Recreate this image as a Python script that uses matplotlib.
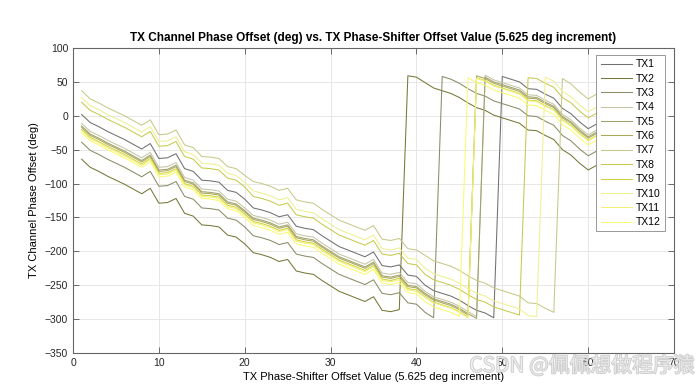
import matplotlib
matplotlib.use('Agg')
import matplotlib.pyplot as plt
import matplotlib.patheffects as pe

plt.rcParams['font.family'] = ['Liberation Sans', 'DejaVu Sans']

# phase-shifter offset steps
steps = list(range(1, 62))

tx1 = [2, -10, -16, -23, -29, -35, -42, -49, -41, -63, -62, -56, -78, -82, -95, -96, -98, -110, -113, -123,
       -136, -139, -143, -149, -146, -163, -166, -168, -177, -185, -193, -198, -203, -208, -201, -221, -223, -220, -235, -237,
       -250, -258, -262, -266, -272, -280, -287, -291, -298, 58, 54, 50, 40, 39, 32, 26, 11, 3, -9, -19, -12]
tx2 = [-64, -76, -82, -89, -95, -101, -108, -115, -107, -129, -128, -122, -144, -148, -161, -162, -164, -176, -179, -189,
       -202, -205, -209, -215, -212, -229, -232, -234, -243, -251, -259, -264, -269, -274, -267, -287, -289, -286, 59, 57,
       49, 41, 37, 33, 27, 19, 12, 8, 1, -3, -7, -11, -21, -22, -29, -35, -50, -58, -70, -80, -73]
tx3 = [-39, -51, -57, -64, -70, -76, -83, -90, -82, -104, -103, -97, -119, -123, -136, -137, -139, -151, -154, -164,
       -177, -180, -184, -190, -187, -204, -207, -209, -218, -226, -234, -239, -244, -249, -242, -262, -264, -261, -276, -278,
       -290, -298, 58, 54, 48, 40, 33, 29, 22, 18, 14, 10, 0, -1, -8, -14, -29, -37, -49, -59, -52]
tx4 = [-11, -23, -29, -36, -42, -48, -55, -62, -54, -76, -75, -69, -91, -95, -108, -109, -111, -123, -126, -136,
       -147, -150, -154, -160, -157, -174, -177, -179, -188, -196, -204, -209, -214, -219, -212, -232, -234, -231, -246, -248,
       -259, -267, -271, -275, -281, -289, -296, 60, 53, 49, 45, 41, 31, 30, 23, 17, 2, -6, -18, -28, -21]
tx5 = [-15, -27, -33, -40, -46, -52, -59, -66, -58, -80, -79, -73, -95, -99, -112, -113, -115, -127, -130, -140,
       -151, -154, -158, -164, -161, -178, -181, -183, -192, -200, -208, -213, -218, -223, -216, -236, -238, -235, -250, -252,
       -262, -270, -274, -278, -284, -292, -299, 57, 50, 46, 42, 38, 28, 27, 20, 14, -1, -9, -21, -31, -24]
tx6 = [-17, -29, -35, -42, -48, -54, -61, -68, -60, -82, -81, -75, -97, -101, -114, -115, -117, -129, -132, -142,
       -153, -156, -160, -166, -163, -180, -183, -185, -194, -202, -210, -215, -220, -225, -218, -238, -240, -237, -252, -254,
       -264, -272, -276, -280, -286, -294, 59, 55, 48, 44, 40, 36, 26, 25, 18, 12, -3, -11, -23, -33, -26]
tx7 = [37, 25, 19, 12, 6, 0, -7, -14, -6, -28, -27, -21, -43, -47, -60, -61, -63, -75, -78, -88,
       -97, -100, -104, -110, -107, -124, -127, -129, -138, -146, -154, -159, -164, -169, -162, -182, -184, -181, -196, -198,
       -206, -214, -218, -222, -228, -236, -243, -247, -254, -258, -262, -266, -276, -277, -284, -290, 55, 47, 35, 25, 32]
tx8 = [20, 8, 2, -5, -11, -17, -24, -31, -23, -45, -44, -38, -60, -64, -77, -78, -80, -92, -95, -105,
       -119, -122, -126, -132, -129, -146, -149, -151, -160, -168, -176, -181, -186, -191, -184, -204, -206, -203, -218, -220,
       -234, -242, -246, -250, -256, -264, -271, -275, -282, -286, -290, -294, 56, 55, 48, 42, 27, 19, 7, -3, 4]
tx9 = [-20, -32, -38, -45, -51, -57, -64, -71, -63, -85, -84, -78, -100, -104, -117, -118, -120, -132, -135, -145,
       -156, -159, -163, -169, -166, -183, -186, -188, -197, -205, -213, -218, -223, -228, -221, -241, -243, -240, -255, -257,
       -267, -275, -279, -283, -289, -297, 56, 52, 45, 41, 37, 33, 23, 22, 15, 9, -6, -14, -26, -36, -29]
tx10 = [27, 15, 9, 2, -4, -10, -17, -24, -16, -38, -37, -31, -53, -57, -70, -71, -73, -85, -88, -98,
        -111, -114, -118, -124, -121, -138, -141, -143, -152, -160, -168, -173, -178, -183, -176, -196, -198, -195, -210, -212,
        -225, -233, -237, -241, -247, -255, -262, -266, -273, -277, -281, -285, -295, -296, 57, 51, 36, 28, 16, 6, 13]
tx11 = [-22, -34, -40, -47, -53, -59, -66, -73, -65, -87, -86, -80, -102, -106, -119, -120, -122, -134, -137, -147,
        -158, -161, -165, -171, -168, -185, -188, -190, -199, -207, -215, -220, -225, -230, -223, -243, -245, -242, -257, -259,
        -268, -276, -280, -284, -290, -298, 55, 51, 44, 40, 36, 32, 22, 21, 14, 8, -7, -15, -27, -37, -30]
tx12 = [-25, -37, -43, -50, -56, -62, -69, -76, -68, -90, -89, -83, -105, -109, -122, -123, -125, -137, -140, -150,
        -162, -165, -169, -175, -172, -189, -192, -194, -203, -211, -219, -224, -229, -234, -227, -247, -249, -246, -261, -263,
        -274, -282, -286, -290, -296, 56, 49, 45, 38, 34, 30, 26, 16, 15, 8, 2, -13, -21, -33, -43, -36]

labels = ['TX1', 'TX2', 'TX3', 'TX4', 'TX5', 'TX6', 'TX7', 'TX8', 'TX9', 'TX10', 'TX11', 'TX12']
colors = ['#707070', '#77773a', '#8b8b68', '#c5c5a5', '#a0a06c', '#a8a858',
          '#c8c88a', '#c9c94f', '#d2d23a', '#efef93', '#f2f27a', '#fafa70']
series = [tx1, tx2, tx3, tx4, tx5, tx6, tx7, tx8, tx9, tx10, tx11, tx12]

fig = plt.figure(figsize=(7, 3.91), dpi=100)
ax = fig.add_axes([0.1043, 0.0972, 0.8586, 0.78])

for vals, lab, col in zip(series, labels, colors):
    ax.plot(steps, vals, color=col, lw=0.75, label=lab)

ax.set_xlim(0, 70)
ax.set_ylim(-350, 100)
ax.set_xticks(range(0, 71, 10))
ax.set_yticks(range(-350, 101, 50))
ax.grid(True, color='#e3e3e3', lw=0.6)
ax.set_axisbelow(True)
ax.tick_params(direction='in', length=4, width=0.6, colors='#555555', labelcolor='#262626',
               labelsize=7.5, top=True, right=True)
for s in ax.spines.values():
    s.set_color('#666666')
    s.set_linewidth(0.8)

ax.set_title('TX Channel Phase Offset (deg) vs. TX Phase-Shifter Offset Value (5.625 deg increment)',
             fontsize=8.5, fontweight='bold', pad=5)
ax.set_xlabel('TX Phase-Shifter Offset Value (5.625 deg increment)', fontsize=8, labelpad=3)
ax.set_ylabel('TX Channel Phase Offset (deg)', fontsize=8, labelpad=4)

leg = ax.legend(loc='upper right', bbox_to_anchor=(665 / 700, 1 - 55 / 391),
                bbox_transform=fig.transFigure, borderaxespad=0, fontsize=7.5,
                handlelength=3.0, handletextpad=0.4, labelspacing=0.42,
                fancybox=False, framealpha=1, edgecolor='#888888')
leg.get_frame().set_linewidth(0.6)

# site watermark, as in the source image (translucent so the ticks show through)
fig.text(0.993, 0.064, 'CSDN @佩佩想做程序猿', ha='right', va='center', fontsize=15,
         family=['Noto Sans CJK SC', 'DejaVu Sans'], color='white', alpha=0.55,
         path_effects=[pe.withStroke(linewidth=1.1, foreground='#a0a0a0')])

fig.savefig('out.png', dpi=100)
